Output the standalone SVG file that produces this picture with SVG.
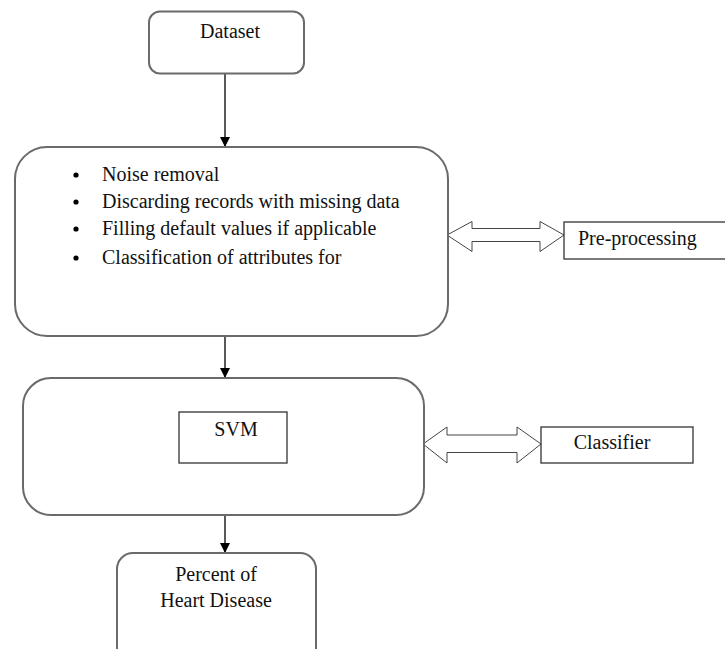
<svg xmlns="http://www.w3.org/2000/svg" width="725" height="649" viewBox="0 0 725 649">
<defs>
<style>
.node{fill:#fff;stroke:#6a6a6a;stroke-width:2}
.rect{fill:#fff;stroke:#333;stroke-width:1.3}
.dbl{fill:#fff;stroke:#444;stroke-width:1}
.t{font-family:"Liberation Serif","Times New Roman",serif;font-size:20px;fill:#111}
.c{stroke:#000;stroke-width:1.3;fill:none}
</style>
<marker id="ah" markerWidth="10" markerHeight="10" refX="10" refY="5" orient="auto" markerUnits="userSpaceOnUse">
<path d="M0,0 L10,5 L0,10 Z" fill="#000"/>
</marker>
</defs>
<rect width="725" height="649" fill="#fff"/>
<g id="connectors">
<line class="c" x1="225" y1="73" x2="225" y2="147" marker-end="url(#ah)"/>
<line class="c" x1="225" y1="336" x2="225" y2="378" marker-end="url(#ah)"/>
<line class="c" x1="225" y1="515" x2="225" y2="553" marker-end="url(#ah)"/>
<path class="dbl" d="M447,235 L472,221.5 L472,228.5 L540,228.5 L540,221.5 L564,235 L540,251.5 L540,241.5 L472,241.5 L472,251.5 Z"/>
<path class="dbl" d="M423,444 L447,427 L447,435 L517,435 L517,427 L541,444 L517,463 L517,452.5 L447,452.5 L447,463 Z"/>
</g>
<g id="dataset">
<rect class="node" x="149" y="11.5" width="155" height="62" rx="11"/>
<text class="t" x="230" y="38" text-anchor="middle">Dataset</text>
</g>
<g id="preprocess-steps">
<rect class="node" x="15" y="147" width="433" height="189" rx="32"/>
<circle cx="76" cy="175" r="2.6" fill="#000"/>
<text class="t" x="102" y="181">Noise removal</text>
<circle cx="76" cy="202" r="2.6" fill="#000"/>
<text class="t" x="102" y="208">Discarding records with missing data</text>
<circle cx="76" cy="229" r="2.6" fill="#000"/>
<text class="t" x="102" y="235">Filling default values if applicable</text>
<circle cx="76" cy="258" r="2.6" fill="#000"/>
<text class="t" x="102" y="264">Classification of attributes for</text>
</g>
<g id="preprocessing">
<rect class="rect" x="564" y="222" width="162" height="37"/>
<text class="t" x="578" y="245">Pre-processing</text>
</g>
<g id="classifier-box">
<rect class="node" x="23" y="378" width="401" height="137" rx="28"/>
</g>
<g id="svm">
<rect class="rect" x="179" y="412" width="108" height="51"/>
<text class="t" x="236" y="436" text-anchor="middle">SVM</text>
</g>
<g id="classifier">
<rect class="rect" x="541" y="427" width="152" height="36"/>
<text class="t" x="612" y="449" text-anchor="middle">Classifier</text>
</g>
<g id="result">
<rect class="node" x="117" y="553" width="199" height="110" rx="16"/>
<text class="t" x="216" y="581" text-anchor="middle">Percent of</text>
<text class="t" x="216" y="607" text-anchor="middle">Heart Disease</text>
</g>
</svg>
